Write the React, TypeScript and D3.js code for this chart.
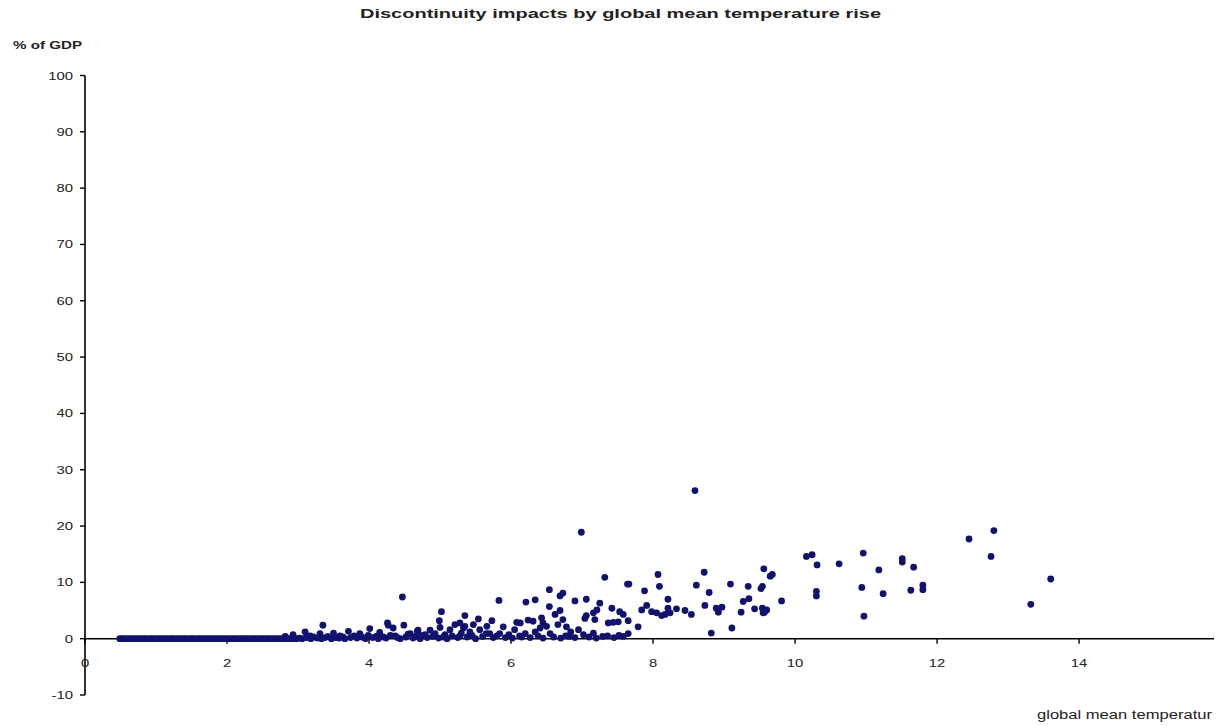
import React, { useRef, useEffect } from "react";
import * as d3 from "d3";

// x ticks and y ticks of the chart
const xTicks = [0, 2, 4, 6, 8, 10, 12, 14];
const yTicks = [-10, 0, 10, 20, 30, 40, 50, 60, 70, 80, 90, 100];

// dense run of runs with zero impact (below ~3 degrees)
const zeroBandX = [
    0.49, 0.52, 0.55, 0.59, 0.63, 0.66, 0.7, 0.74, 0.77, 0.81, 0.84, 0.88, 0.92, 0.95, 0.99,
    1.03, 1.06, 1.1, 1.13, 1.17, 1.21, 1.24, 1.28, 1.32, 1.35, 1.39, 1.42, 1.46, 1.5, 1.53,
    1.57, 1.61, 1.64, 1.68, 1.71, 1.75, 1.79, 1.82, 1.86, 1.9, 1.93, 1.97, 2.0, 2.04, 2.08,
    2.11, 2.15, 2.19, 2.22, 2.26, 2.29, 2.33, 2.37, 2.4, 2.44, 2.48, 2.51, 2.55, 2.58, 2.62,
    2.66, 2.69, 2.73, 2.77, 2.8, 2.84, 2.87, 2.91, 2.95, 2.98,
];

// runs hugging the axis above 3 degrees
const lowTemp = [
    3.02, 3.06, 3.12, 3.18, 3.22, 3.27, 3.33, 3.38, 3.42, 3.47, 3.53, 3.58, 3.63, 3.66, 3.74,
    3.79, 3.83, 3.9, 3.95, 3.99, 4.05, 4.1, 4.13, 4.2, 4.24, 4.3, 4.4, 4.44, 4.52, 4.55, 4.62,
    4.66, 4.72, 4.75, 4.82, 4.9, 4.93, 4.98, 5.05, 5.1, 5.17, 5.25, 5.3, 5.38, 5.45, 5.5, 5.6,
    5.65, 5.75, 5.8, 5.92, 5.97, 6.02, 6.15, 6.2, 6.27, 6.38, 6.45, 6.6, 6.7, 6.82, 6.9, 7.1,
    7.2, 7.45, 7.52,
];
const lowImpact = [
    0.1, 0, 0.2, 0, 0.3, 0.1, 0, 0.2, 0.4, 0, 0.2, 0.1, 0.3, 0, 0.2,
    0.5, 0.1, 0.3, 0, 0.6, 0.2, 0.4, 0, 0.3, 0.1, 0.6, 0.2, 0, 0.3, 0.8, 0.1,
    0.4, 0, 0.6, 0.2, 0.4, 0.9, 0.1, 0.3, 0, 0.5, 0.2, 1.0, 0.3, 0.6, 0, 0.4,
    0.9, 0.2, 0.5, 0.2, 0.7, 0.1, 0.3, 0.9, 0.2, 0.5, 0.1, 0.3, 0.1, 0.4, 0.2, 0.3,
    0.1, 0.2, 0.6,
];

// scattered runs: temperature rise and % of GDP
const temp = [
    6.99, 8.59, 10.16, 10.24, 10.31, 10.62, 10.96, 11.18, 11.51, 11.51, 11.67, 10.3, 10.3, 10.94,
    11.24, 10.97, 11.63, 11.8, 11.8, 12.45, 12.8, 12.76, 13.32, 13.6,
    7.32, 7.64, 7.66, 8.07, 8.09, 7.88, 8.72, 8.61, 8.79, 9.09, 9.34, 9.56, 9.65, 9.68, 9.54, 9.52,
    9.81, 9.27, 9.35, 9.24, 9.11, 8.82, 8.73, 8.89, 8.92, 8.97, 9.43, 9.54, 9.57, 9.6, 9.55, 8.54,
    8.45, 8.33, 8.24, 8.21, 8.21, 8.17, 8.12, 8.05, 7.98, 7.91, 7.84, 7.79, 7.65, 7.58, 7.53, 7.51,
    7.44, 7.37, 7.42, 7.25, 7.21, 7.16, 7.18, 7.04, 7.06, 7.58, 7.36, 7.29, 7.65,
    5.83, 6.21, 6.34, 6.54, 6.69, 6.73, 6.9, 6.54, 5.54, 5.73, 5.89, 6.08, 6.13, 6.24, 6.31, 6.43,
    6.45, 6.5, 6.41, 6.62, 6.69, 6.73, 6.66, 6.78, 7.06, 6.95, 7.02, 7.16, 6.84, 6.34, 6.05, 5.84,
    6.55, 6.77,
    4.47, 5.02, 4.99, 5.35, 3.35, 3.1, 4.26, 4.27, 4.01, 4.49, 4.68, 4.86, 5.14, 5.21, 5.28, 5.35,
    3.71, 3.5, 3.31, 2.93, 4.34, 5.47, 5.56, 5.66, 5.33, 4.69, 5.0, 5.42, 5.7, 3.87, 4.15, 4.58,
    4.79, 5.07, 3.59, 3.17, 2.82, 4.37, 5.28, 6.12,
];
const impact = [
    18.9, 26.3, 14.6, 14.9, 13.1, 13.3, 15.2, 12.2, 14.2, 13.6, 12.7, 8.4, 7.6, 9.1,
    8.0, 4.0, 8.6, 9.5, 8.7, 17.7, 19.2, 14.6, 6.1, 10.6,
    10.9, 9.7, 9.7, 11.4, 9.3, 8.5, 11.8, 9.5, 8.2, 9.7, 9.3, 12.4, 11.1, 11.4, 9.3, 8.9,
    6.7, 6.6, 7.1, 4.7, 1.9, 1.0, 5.9, 5.4, 4.7, 5.6, 5.3, 5.4, 4.7, 5.1, 4.6, 4.3,
    5.0, 5.3, 4.6, 5.4, 7.0, 4.3, 4.1, 4.6, 4.8, 5.9, 5.1, 2.1, 3.2, 4.3, 4.8, 3.0,
    2.9, 2.8, 5.4, 6.3, 5.1, 4.6, 3.4, 3.6, 7.0, 0.4, 0.5, 0.4, 0.9,
    6.8, 6.5, 6.9, 8.7, 7.6, 8.1, 6.7, 5.7, 3.5, 3.2, 2.1, 2.9, 2.8, 3.3, 3.1, 3.7,
    2.8, 2.2, 1.9, 4.3, 5.0, 3.4, 2.5, 2.1, 4.1, 1.6, 0.7, 1.0, 1.2, 1.2, 1.6, 0.9,
    0.9, 0.5,
    7.4, 4.8, 3.2, 4.1, 2.4, 1.2, 2.8, 2.4, 1.8, 2.4, 1.3, 1.5, 1.6, 2.5, 2.8, 2.2,
    1.3, 1.0, 0.9, 0.7, 1.9, 2.5, 1.6, 2.2, 1.9, 1.5, 2.0, 1.2, 0.9, 0.9, 1.1, 0.9,
    0.7, 0.7, 0.5, 0.5, 0.4, 0.5, 0.5, 0.5,
];

const ScatterChart = () => {
    const svgRef = useRef<SVGSVGElement>(null);

    useEffect(() => {
        const svg = d3.select(svgRef.current);
        svg.selectAll("*").remove();

        const width = 1222;
        const height = 726;
        const font = "'Liberation Sans', Arial, sans-serif";
        const textColor = "#222";
        const stretch = 1.35; // picture is widened horizontally

        const xScale = d3.scaleLinear().domain([0, 15.9]).range([85, 1214]);
        const yScale = d3.scaleLinear().domain([-10, 100]).range([695, 75.5]);

        svg.attr("width", width).attr("height", height);

        const points = [
            ...zeroBandX.map(x => [x, 0]),
            ...lowTemp.map((x, i) => [x, lowImpact[i]]),
            ...temp.map((x, i) => [x, impact[i]]),
        ];

        // y axis
        const yAxis = svg.append("g");
        yAxis
            .append("line")
            .attr("x1", xScale(0))
            .attr("x2", xScale(0))
            .attr("y1", yScale(100))
            .attr("y2", yScale(-10))
            .attr("stroke", "#000")
            .attr("stroke-width", 1.6);
        yAxis
            .selectAll(".ytick")
            .data(yTicks)
            .enter()
            .append("line")
            .attr("x1", xScale(0) - 5)
            .attr("x2", xScale(0))
            .attr("y1", d => yScale(d))
            .attr("y2", d => yScale(d))
            .attr("stroke", "#000")
            .attr("stroke-width", 1.4);
        yAxis
            .selectAll("text")
            .data(yTicks)
            .enter()
            .append("text")
            .attr("transform", d => `translate(${xScale(0) - 12}, ${yScale(d) + 4}) scale(${stretch}, 1)`)
            .attr("text-anchor", "end")
            .attr("font-family", font)
            .attr("font-size", 11)
            .attr("fill", textColor)
            .text(d => d);

        // x axis on the zero line
        const xAxis = svg.append("g");
        xAxis
            .append("line")
            .attr("x1", xScale(0))
            .attr("x2", xScale(15.9))
            .attr("y1", yScale(0))
            .attr("y2", yScale(0))
            .attr("stroke", "#000")
            .attr("stroke-width", 1.6);
        xAxis
            .selectAll(".xtick")
            .data(xTicks)
            .enter()
            .append("line")
            .attr("x1", d => xScale(d))
            .attr("x2", d => xScale(d))
            .attr("y1", yScale(0))
            .attr("y2", yScale(0) + 5)
            .attr("stroke", "#000")
            .attr("stroke-width", 1.4);
        xAxis
            .selectAll("text")
            .data(xTicks)
            .enter()
            .append("text")
            .attr("transform", d => `translate(${xScale(d)}, ${yScale(0) + 28}) scale(${stretch}, 1)`)
            .attr("text-anchor", "middle")
            .attr("font-family", font)
            .attr("font-size", 11)
            .attr("fill", textColor)
            .text(d => d);

        // Draw points on top of the axes (blurred Excel markers read as round blobs)
        svg
            .append("g")
            .selectAll("circle")
            .data(points)
            .enter()
            .append("circle")
            .attr("cx", d => xScale(d[0]))
            .attr("cy", d => yScale(d[1]))
            .attr("r", 3.4)
            .attr("fill", "#12126e");

        // Title and axis labels
        svg
            .append("text")
            .attr("x", 360)
            .attr("y", 18)
            .attr("textLength", 521)
            .attr("lengthAdjust", "spacingAndGlyphs")
            .attr("font-family", font)
            .attr("font-size", 13)
            .attr("font-weight", "bold")
            .attr("fill", textColor)
            .text("Discontinuity impacts by global mean temperature rise");

        svg
            .append("text")
            .attr("x", 13)
            .attr("y", 49)
            .attr("textLength", 69)
            .attr("lengthAdjust", "spacingAndGlyphs")
            .attr("font-family", font)
            .attr("font-size", 10)
            .attr("font-weight", "bold")
            .attr("fill", textColor)
            .text("% of GDP");

        svg
            .append("text")
            .attr("x", 1037)
            .attr("y", 719)
            .attr("textLength", 175)
            .attr("lengthAdjust", "spacingAndGlyphs")
            .attr("font-family", font)
            .attr("font-size", 12)
            .attr("fill", textColor)
            .text("global mean temperatur");
    }, []);

    return <svg ref={svgRef} style={{ position: "absolute", left: 0, top: 0, display: "block" }}></svg>;
};

export default function App() {
    return <ScatterChart />;
}
